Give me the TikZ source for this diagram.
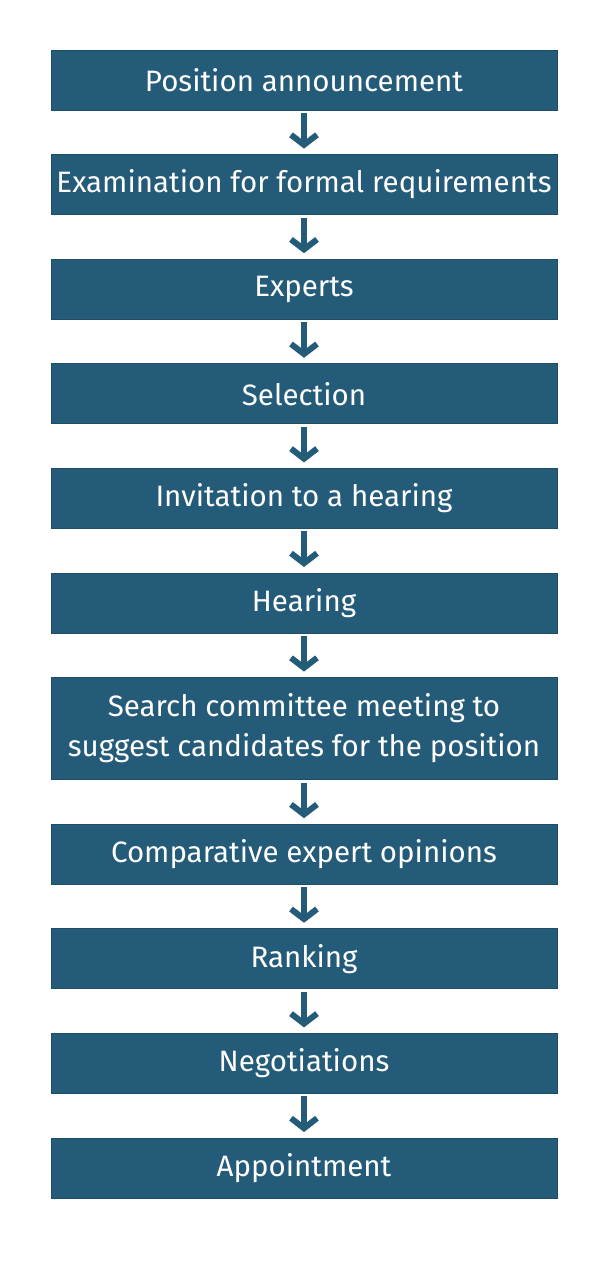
\documentclass[tikz,border=0pt]{standalone}
\usepackage{fontspec}
\setmainfont{Fira Sans}
\usepackage{tikz}
\usetikzlibrary{positioning, arrows.meta}
\definecolor{stepblue}{HTML}{245B78}

\begin{document}
\begin{tikzpicture}[x=1pt, y=1pt, node distance=44.6pt,
    stepbox/.style={fill=stepblue, draw=stepblue!85!black, line width=0.8pt,
      minimum width=506pt, minimum height=60pt, inner sep=0pt, outer sep=0pt,
      text=white, align=center, font=\fontsize{29.5}{40}\selectfont},
    flow/.style={draw=stepblue, line width=6pt,
      -{Straight Barb[length=10pt, width=26pt]},
      shorten <=3pt, shorten >=6pt}]
    \useasboundingbox (0,0) rectangle (610,-1283);

    % Steps
    \node[stepbox] (announce) at (304,-80) {Position announcement};
    \node[stepbox, below=of announce] (exam) {Examination for formal requirements};
    \node[stepbox, below=of exam] (experts) {Experts};
    \node[stepbox, below=of experts] (selection) {Selection};
    \node[stepbox, below=of selection] (invite) {Invitation to a hearing};
    \node[stepbox, below=of invite] (hearing) {Hearing};
    \node[stepbox, minimum height=102pt, below=of hearing] (committee)
      {Search committee meeting to\\suggest candidates for the position};
    \node[stepbox, below=of committee] (opinions) {Comparative expert opinions};
    \node[stepbox, below=of opinions] (ranking) {Ranking};
    \node[stepbox, below=of ranking] (negotiate) {Negotiations};
    \node[stepbox, below=of negotiate] (appoint) {Appointment};

    % Arrows
    \draw[flow] (announce) -- (exam);
    \draw[flow] (exam) -- (experts);
    \draw[flow] (experts) -- (selection);
    \draw[flow] (selection) -- (invite);
    \draw[flow] (invite) -- (hearing);
    \draw[flow] (hearing) -- (committee);
    \draw[flow] (committee) -- (opinions);
    \draw[flow] (opinions) -- (ranking);
    \draw[flow] (ranking) -- (negotiate);
    \draw[flow] (negotiate) -- (appoint);
\end{tikzpicture}
\end{document}
